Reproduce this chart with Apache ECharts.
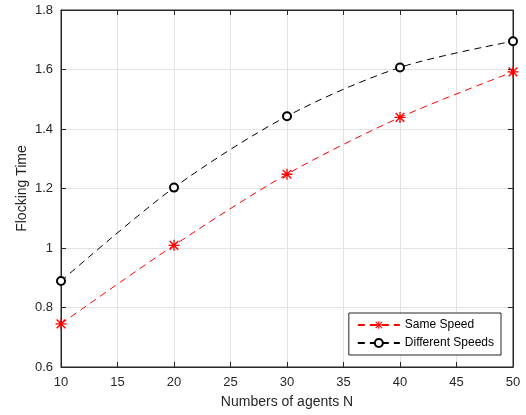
<!DOCTYPE html>
<html>
  <head>
    <meta charset="utf-8" />
  </head>
  <body style="margin:0;">
  <div id="main" style="width: 526px;height:415px;"></div>

  <script type="text/javascript" src="https://cdn.jsdelivr.net/npm/echarts@6/dist/echarts.min.js"></script>
  <script type="text/javascript">
      // data
      var agents = [10, 20, 30, 40, 50];
      var sameSpeed = [0.745, 1.009, 1.248, 1.439, 1.592];
      var diffSpeeds = [0.889, 1.203, 1.443, 1.607, 1.695];

      function pairs(ys) {
        return agents.map(function (x, i) { return [x, ys[i]]; });
      }

      // asterisk marker like matlab '*'
      var star = 'path://M4.4 0L5.6 0L5.6 10L4.4 10Z M0 4.4L10 4.4L10 5.6L0 5.6Z M0.6 1.5L1.5 0.6L9.4 8.5L8.5 9.4Z M8.5 0.6L9.4 1.5L1.5 9.4L0.6 8.5Z';

      var textColor = '#262626';
      var font = 'Liberation Sans, Arial, sans-serif';

      var myChart = echarts.init(document.getElementById('main'));

      var option = {
        animation: false,
        textStyle: { fontFamily: font },
        grid: { left: 61, right: 13, top: 10, bottom: 48, show: true, borderColor: textColor, borderWidth: 1 },
        legend: {
          orient: 'vertical',
          right: 25,
          top: 313,
          itemWidth: 42,
          itemHeight: 10,
          itemGap: 6,
          padding: [6, 7, 6, 8],
          backgroundColor: '#fff',
          borderColor: textColor,
          borderWidth: 1,
          borderRadius: 0,
          textStyle: { fontSize: 12, color: '#000', fontFamily: font },
          data: ['Same Speed', 'Different Speeds']
        },
        xAxis: [{
          type: 'value',
          min: 10, max: 50, interval: 5,
          name: 'Numbers of agents N',
          nameLocation: 'middle',
          nameGap: 28,
          nameMoveOverlap: false,
          nameTextStyle: { fontSize: 14, color: textColor },
          axisLine: { lineStyle: { color: textColor } },
          axisTick: { inside: true, length: 5, lineStyle: { color: textColor } },
          axisLabel: { fontSize: 13, color: textColor, margin: 9 },
          splitLine: { show: true, lineStyle: { color: '#e3e3e3' } }
        }, {
          type: 'value', position: 'top',
          min: 10, max: 50, interval: 5,
          axisLine: { show: true, lineStyle: { color: textColor } },
          axisTick: { show: true, inside: true, length: 5, lineStyle: { color: textColor } },
          axisLabel: { show: false },
          splitLine: { show: false }
        }],
        yAxis: [{
          type: 'value',
          min: 0.6, max: 1.8, interval: 0.2,
          name: 'Flocking Time',
          nameLocation: 'middle',
          nameGap: 32,
          nameMoveOverlap: false,
          nameTextStyle: { fontSize: 14, color: textColor },
          axisLine: { show: true, lineStyle: { color: textColor } },
          axisTick: { show: true, inside: true, length: 5, lineStyle: { color: textColor } },
          axisLabel: { fontSize: 13, color: textColor, margin: 8, formatter: function (v) { return String(+v.toFixed(1)); } },
          splitLine: { show: true, lineStyle: { color: '#e3e3e3' } }
        }, {
          type: 'value', position: 'right',
          min: 0.6, max: 1.8, interval: 0.2,
          axisLine: { show: true, lineStyle: { color: textColor } },
          axisTick: { show: true, inside: true, length: 5, lineStyle: { color: textColor } },
          axisLabel: { show: false },
          splitLine: { show: false }
        }],
        series: [
          {
            name: 'Same Speed',
            type: 'line',
            smooth: 0.3,
            data: pairs(sameSpeed),
            symbol: star,
            symbolSize: 11,
            itemStyle: { color: '#ff0000' },
            lineStyle: { color: '#ff0000', width: 1, type: [7, 5] }
          },
          {
            name: 'Different Speeds',
            type: 'line',
            smooth: 0.3,
            data: pairs(diffSpeeds),
            symbol: 'emptyCircle',
            symbolSize: 8,
            itemStyle: { color: '#000', borderColor: '#000', borderWidth: 1 },
            lineStyle: { color: '#000', width: 1, type: [7, 5] }
          }
        ]
      };

      myChart.setOption(option);
    </script>
</body>
</html>
